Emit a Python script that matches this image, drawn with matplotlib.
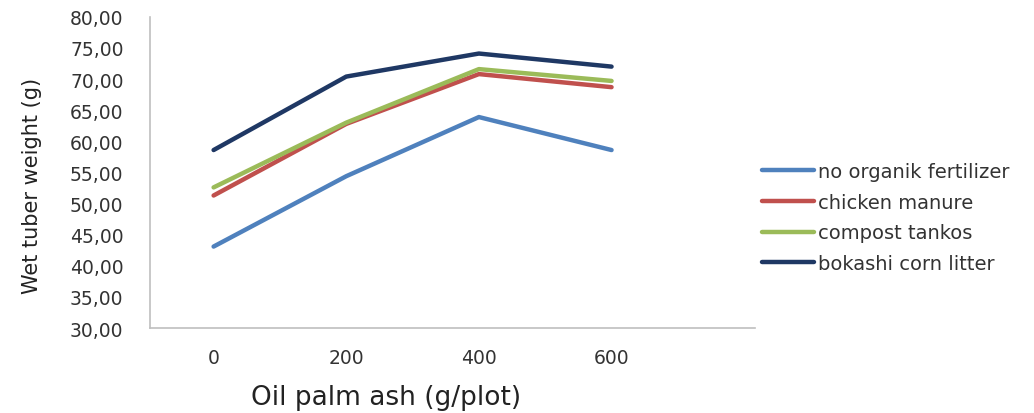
import matplotlib
matplotlib.use("Agg")
import matplotlib.pyplot as plt

# ash doses (category axis) and wet tuber weight per fertilizer treatment
doses = ["0", "200", "400", "600"]
no_organic = [43.1, 54.4, 63.9, 58.6]
chicken = [51.3, 62.8, 70.8, 68.7]
compost = [52.6, 63.0, 71.6, 69.7]
bokashi = [58.6, 70.4, 74.1, 72.0]

series_names = ["no organik fertilizer", "chicken manure", "compost tankos", "bokashi corn litter"]
series_colors = ["#4F81BD", "#C0504D", "#9BBB59", "#1F3864"]
yticks = [30, 35, 40, 45, 50, 55, 60, 65, 70, 75, 80]

fig = plt.figure(figsize=(10.34, 4.14), dpi=100)
ax = fig.add_axes([0.145, 0.205, 0.585, 0.752])

x = list(range(len(doses)))
for vals, name, col in zip([no_organic, chicken, compost, bokashi], series_names, series_colors):
    ax.plot(x, vals, color=col, lw=3.2, label=name, solid_capstyle="round")

ax.set_xlim(-0.48, 4.08)
ax.set_ylim(30, 80)
ax.set_xticks(x)
ax.set_xticklabels(doses)
ax.set_yticks(yticks)
ax.set_yticklabels([f"{v:.2f}".replace(".", ",") for v in yticks])
ax.tick_params(length=0, labelsize=13.5, colors="#333333")
ax.tick_params(axis="y", pad=19)
ax.tick_params(axis="x", pad=14)

for side in ["top", "right"]:
    ax.spines[side].set_visible(False)
for side in ["left", "bottom"]:
    ax.spines[side].set_color("#BFBFBF")
    ax.spines[side].set_linewidth(1.2)

ax.set_xlabel("Oil palm ash (g/plot)", fontsize=19, color="#222222")
ax.xaxis.set_label_coords(0.39, -0.18)
ax.set_ylabel("Wet tuber weight (g)", fontsize=15, color="#222222")
ax.yaxis.set_label_coords(-0.178, 0.46)

fig.legend(loc="center left", bbox_to_anchor=(0.72, 0.472), frameon=False,
           fontsize=14, handlelength=2.7, handletextpad=0.2, labelspacing=0.6,
           labelcolor="#333333")

fig.savefig("out.png", dpi=100)
